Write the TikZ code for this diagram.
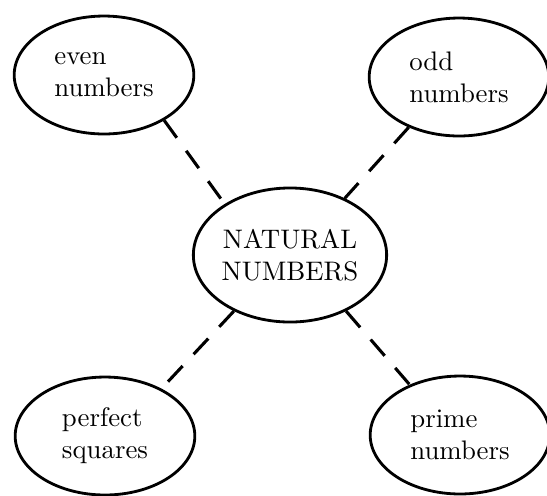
\documentclass[tikz,border=0pt]{standalone}
\usepackage{tikz}
\usetikzlibrary{shapes.geometric}
\tikzset{
  set-node/.style={draw=black,line width=1.05pt,ellipse,inner sep=0pt,
    align=left,minimum width=67pt,minimum height=44pt},
  set-main/.style={set-node,align=center,minimum width=71pt,minimum height=50pt},
  link-dashed/.style={line width=1.15pt,dash pattern=on 8pt off 6pt},
}

\begin{document}
\begin{tikzpicture}[x=0.373pt,y=-0.373pt]
  \useasboundingbox (0,0) rectangle (547,495);
  \node[set-main] (nat)   at (290,255) {NATURAL\\NUMBERS};
  \node[set-node] (even)  at (104,75)  {even\\numbers};
  \node[set-node] (odd)   at (459,77)  {odd\\numbers};
  \node[set-node] (sq)    at (105,436) {perfect\\squares};
  \node[set-node] (prime) at (460,435) {prime\\numbers};
  \draw[link-dashed] (even.-37)   -- (nat.142);
  \draw[link-dashed] (odd.225)    -- (nat.46);
  \draw[link-dashed] (nat.225)    -- (sq.40);
  \draw[link-dashed] (nat.-45)    -- (prime.135);
\end{tikzpicture}
\end{document}
